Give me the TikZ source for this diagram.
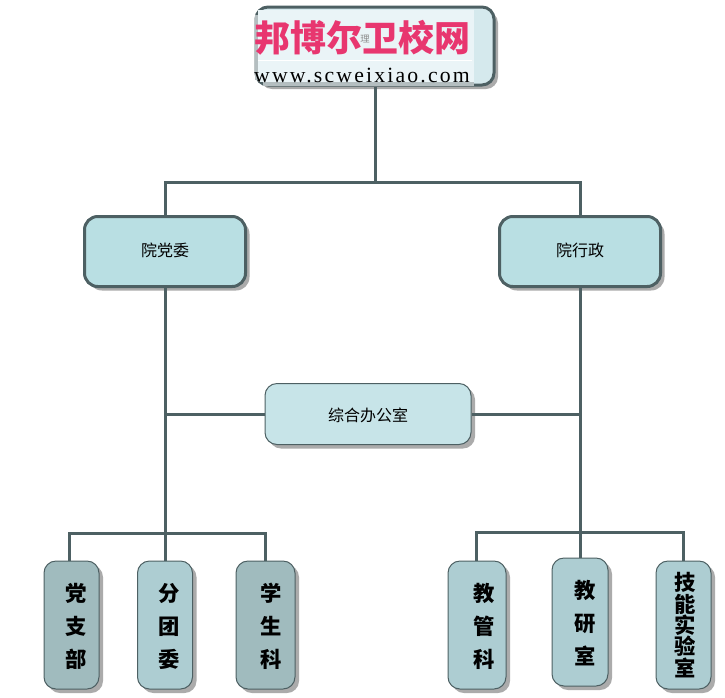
\documentclass[tikz,border=0pt]{standalone}
\usepackage{fontspec}
\usetikzlibrary{shadows,calc}
\setmainfont{Noto Sans CJK SC}
\newfontfamily\urlfont[LetterSpace=10]{Liberation Serif}
\definecolor{linec}{HTML}{4D6063}
\definecolor{topc}{HTML}{D5E9ED}
\definecolor{logoc}{HTML}{EAF4F7}
\definecolor{logog}{HTML}{B4BEC0}
\definecolor{pinkc}{HTML}{E8366F}
\definecolor{mainc}{HTML}{B9DFE3}
\definecolor{officec}{HTML}{C7E4E8}
\definecolor{leafa}{HTML}{A0BBBE}
\definecolor{leafb}{HTML}{ADCDD2}
\def\px{0.75pt}
\newcommand\vt[3][-6.4pt]{\hspace*{#2}\raisebox{#1}[0pt][0pt]{\begin{tabular}{@{}c@{}}#3\end{tabular}}}
\newcommand\lbl[2]{\raisebox{#1}[0pt][0pt]{#2}}
\tikzset{
  x=0.75pt,y=-0.75pt,
  shad/.style={copy shadow={shadow xshift=3pt,shadow yshift=-3pt,fill=black!33,draw=none}},
  conn/.style={draw=linec,line width=2.25pt,line cap=butt,line join=miter},
  mainbox/.style={shad,draw=linec,line width=2.25pt,rounded corners=10pt,fill=mainc,minimum width=161*\px,minimum height=70*\px,inner sep=0pt,font=\fontsize{12}{14}\selectfont},
  officebox/.style={shad,draw=linec,line width=.75pt,rounded corners=9pt,fill=officec,minimum width=206*\px,minimum height=61*\px,inner sep=0pt,font=\fontsize{12}{14}\selectfont},
  leafbox/.style={shad,draw=linec,line width=.75pt,rounded corners=9pt,minimum height=128*\px,inner sep=0pt,font=\fontsize{16}{24.75}\selectfont\bfseries},
  topbox/.style={shad,draw=linec,line width=2.25pt,rounded corners=9pt,fill=topc,minimum width=238*\px,minimum height=78*\px,inner sep=0pt},
}
\begin{document}
\begin{tikzpicture}
\useasboundingbox (0,0) rectangle (725,697);
% boxes
\node[topbox] (top) at (375,46) {};
\fill[logoc] (258,10) rectangle (474,82);
\fill[logog] (263,82) rectangle (474,86);
\fill[logog] (255,15) rectangle (258,80);
\draw[white,line width=.6pt] (258,60) -- (472,60);
\node[text=black!45,font=\fontsize{7}{8}\selectfont,inner sep=0pt] (wm) at (365,39) {理};
\node[text=pinkc,font=\fontsize{27}{30}\selectfont\bfseries,inner sep=0pt] (title) at (362,38) {邦博尔卫校网};
\node[font=\fontsize{16.3}{18}\urlfont,inner sep=0pt] (url) at (362,75) {www.scweixiao.com};
\node[mainbox] (yd) at (165,251.5) {\lbl{-3.4pt}{院党委}};
\node[mainbox] (yx) at (580,251.5) {\lbl{-3.4pt}{院行政}};
\node[officebox] (office) at (368,414) {\lbl{-5.7pt}{综合办公室}};
\node[leafbox,fill=leafa,minimum width=55*\px] (dzb) at (71.5,625) {\vt{6.75pt}{党\\支\\部}};
\node[leafbox,fill=leafb,minimum width=55*\px] (ftw) at (165,625) {\vt{6pt}{分\\团\\委}};
\node[leafbox,fill=leafa,minimum width=59*\px] (xsk) at (265.5,625) {\vt{8pt}{学\\生\\科}};
\node[leafbox,fill=leafb,minimum width=58*\px] (jgk) at (477,625) {\vt{10.5pt}{教\\管\\科}};
\node[leafbox,fill=leafb,minimum width=56*\px] (jys) at (580,622) {\vt{7.5pt}{教\\研\\室}};
\node[leafbox,fill=leafb,minimum width=55*\px,font=\fontsize{16}{16}\selectfont\bfseries] (jnsys) at (683.5,625) {\vt[-7.4pt]{3pt}{\smash{技}\\\smash{能}\\\smash{实}\\\smash{验}\\\smash{室}}};
% connector junctions
\coordinate (topbus) at (376,182);
\coordinate (lbus) at (165,533);
\coordinate (rbus) at (580,532);
% connectors
\draw[conn] (top.south) -- (top.south |- topbus);
\draw[conn] (yd.north) -- (yd.north |- topbus) -- (yx.north |- topbus) -- (yx.north);
\draw[conn] (yd.south) -- (ftw.north);
\draw[conn] (yx.south) -- (jys.north);
\draw[conn] (office.west) -- (office.west -| yd);
\draw[conn] (office.east) -- (office.east -| yx);
\draw[conn] ([xshift=-2.5*\px]dzb.north) -- ([xshift=-2.5*\px]dzb.north |- lbus) -- (xsk.north |- lbus) -- (xsk.north);
\draw[conn] ([xshift=-1*\px]jgk.north) -- ([xshift=-1*\px]jgk.north |- rbus) -- (jnsys.north |- rbus) -- (jnsys.north);
\end{tikzpicture}
\end{document}
